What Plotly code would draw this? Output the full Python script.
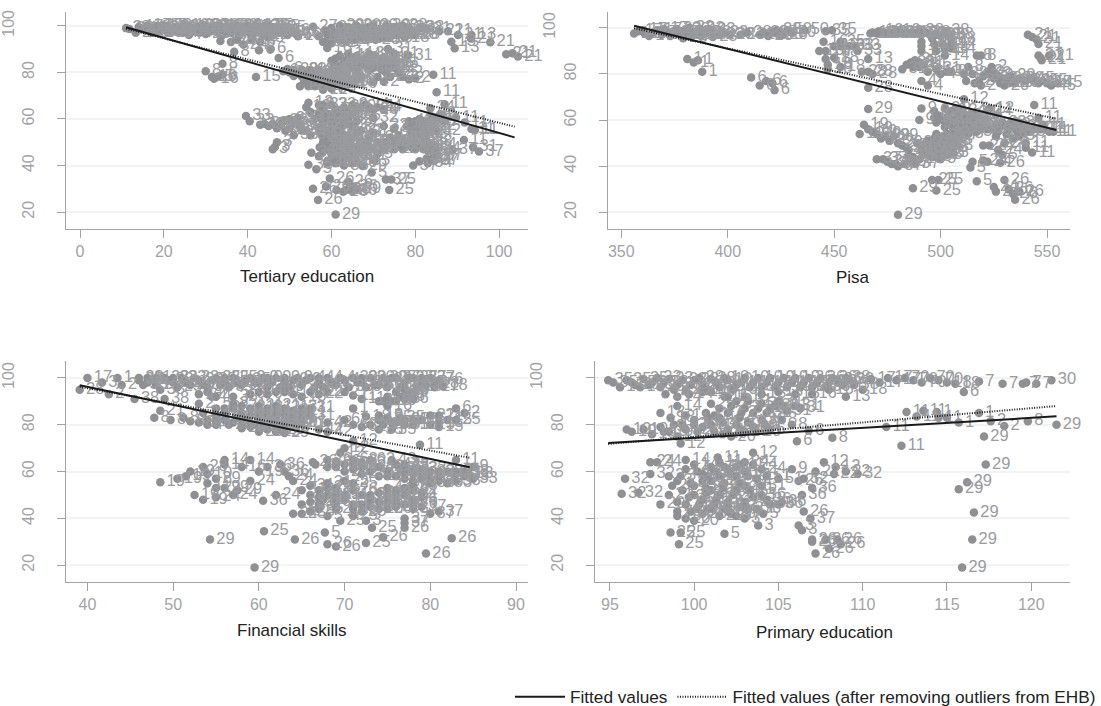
import plotly.graph_objects as go

tertiary_points = [
(11,99,28),(11.8,98.6,28),(13.3,97,28),(14,99.5,17),(15,98.5,19),(16,100,17),(16.5,98,38),(17.5,99,19),(18.5,100,17),(19,97.5,38),(20,99,22),(20.8,100,22),(21.5,98,30),(22.5,99.5,30),(23,97.5,4),(24,99,4),(25,100,10),(25.5,98,34),(26.5,99,34),(27.5,97.5,7),(28,99.5,7),(29,98,23),(29.5,100,23),(30.5,99,27),(31,97.5,27),(32,100,16),(32.5,98.5,16),(33.5,100,15),(34,98,15),(35,99.5,9),(35.5,97.5,9),(36.5,100,20),(37,98.5,20),(38,99.5,36),(38.5,97.5,36),(39.5,99,14),(40,100,14),(41,98,12),(41.5,99.5,12),(42.5,97.5,10),(43,99,10),(44,100,35),(44.5,98,35),(45.5,99,35),(46,97.5,35),(46.5,99.5,35),(47.5,97,35),(49,98,16),(50.5,97.5,16),(51.5,96.5,16),(52,95.5,18),
(17,97,19),(18,98,38),(19.5,100,17),(21,97,30),(22,98.5,22),(24.5,97,4),(26,100,10),(27,98,34),(28.5,97,7),(30,100,23),(31.5,99,27),(33,97,15),(34.5,99,15),(36,97,9),(37.5,100,20),(39,98,36),(40.5,97,14),(42,100,12),(43.5,97,10),(45,100,35),(47,98,35),(48,99,35),(49.5,96,16),
(26,96,7),(30,96.5,23),(34,96,15),(38,96,9),(41,96,20),(44,96,12),(33.5,93.5,7),(36,93,24),(37.5,94,24),(39,92,24),(41,94,24),(43,93,8),(45,95,8),(36.8,88.9,8),(42.7,89.5,6),(45.5,90,6),(47.4,86.2,6),(34,83.7,8),(30,80.5,8),(31.5,78,16),(32,77.3,16),(33,78.2,5),(34,79,5),(42,78,15),
(48.5,80.5,6),(50,80,6),(51,81,20),(52,79.5,20),(53,81,20),(54,80,12),(54,78,12),(55,76,12),(56,80,12),(53.5,76,12),(52.5,74,12),(55,79,18),(57,81,18),(58,78,18),(59,76,18),(60,80,20),(61,77,20),(62,75,20),(63,79,20),(57,75,12),(59,80,30),(64,77,6),(66,77,6),(67,78.5,6),(64.5,76,16),(65,75,16),(56,78,12),(58,74,12),(60,73,30),(61,79,30),(62,81,4),(56,74,12),
(49.5,81.5,6),(51,78.5,20),(53,78,20),(55,81,18),(57,78,18),(58.5,80,30),(60,78,30),(62,78,20),(63,76,20),(59.5,74,12),(61,75,30),(54.5,74,12),(56,76,12),(58,72.5,12),
(60,85,14),(61,86,14),(62,87,14),(63,85,14),(64,88,14),(65,86,14),(66,87,14),(67,85,14),(68,86,14),(69,88,31),(70,87,31),(71,85,31),(72,86,31),(73,83,31),(74,84,31),(72,81,22),(73,80,22),(74,78,22),(75,82,22),(76,80,22),(78.5,77,2),(80,77.5,2),(77,78,2),(72.5,76,2),(71,78,4),(70,76,4),(62,83,4),(64,83,4),(66,84,4),(68,83,4),(70,84,4),(69,81,4),(66,81,4),(73.5,90,31),(78.3,87.3,31),(75,88,31),
(61,83,4),(63,84,4),(65,82,4),(67,83,4),(68,85,14),(71,83,31),(70,82,4),(72,83,31),(74,82,22),(75,85,31),(64,86,14),(60.5,82,4),(73,86,31),(66,85.5,14),
(55.6,99.6,27),(57,95.5,16),(58,93,16),(59,96,16),(60,99,27),(60.5,94,16),(61,97,27),(62,100,20),(63,96,27),(63.5,93,14),(64,99.5,20),(65,97,30),(65.5,94,14),(66,100,30),(67,97,30),(68,95,28),(68.5,99,30),(69.5,97,28),(70,100,30),(71,96,28),(71.5,98,30),(72,95,28),(73,100,30),(74,97,28),(75,99.5,30),(76,96,18),(77,100,38),(78,97,18),(79,98,38),(80,96,18),(81,99,38),(82.7,98.6,21),(85.7,97.7,21),(87.8,97.7,21),(90.2,96,21),(93.4,96,13),(88.6,93.2,13),(89.4,90.4,13),(97.9,92.9,21),(101.7,87.8,21),(103.2,88.2,21),(104.5,86.8,21),(93.3,94.5,21),(59,90.5,16),(60,92.5,31),
(58.5,98,27),(59.5,94,16),(60.5,96,27),(62,94,16),(62.5,97.5,27),(64,95,14),(66.5,94.5,28),(67.5,99,30),(69,95,28),(70.5,94,28),(72.5,98,30),(73.5,95,28),(75,96,18),(76.5,98,38),(77.5,95,18),(78.5,99,38),(79.5,96,18),
(84.3,79,11),(85.1,71.5,11),(87,66.3,11),(83.6,64.6,24),(89.7,60.6,11),(91.8,58.5,11),(93.4,55.7,11),(94.2,55.2,11),(91.6,51,11),(93.8,47.9,31),(95.2,46,37),(88.9,46.7,37),
(39.6,61.3,33),(40.5,59,33),(43,57.5,33),(45,57,33),(47,56,33),(49,55,33),(50,60,33),(52,60.5,33),(51,53,33),(54,55,33),(55,53,33),(47,50,3),(46.5,48,3),(46,47,3),(48,58,33),(51,58,33),(44,58,33),(46,58,33),(48.5,59,33),(50,56,33),(52.5,57,33),(53,55,33),
(54.5,67,12),(54,65,12),(55,63,9),(56,60,9),(57,66,9),(58,64,9),(59,62,32),(60,66,32),(61,64,32),(62,62,32),(63,65,32),(64,63,32),(65,66,9),(66,64,9),(67,65,9),(68,66,24),(69,65,24),(70,64,24),(71,65,24),(72.5,64,9),(70,60.5,32),(58,58,3),(59,55,3),(60,57,3),(61,59,3),(62,56,3),(63,58,3),(64,60,32),(65,57,32),(66,59,32),(67,55,32),(58,52,23),(59,50,23),(60,52,23),(61,54,23),(62,51,23),(63,53,23),(64,50,23),(65,52,23),(66,54,23),(67,50,23),(59,47,23),(60,45,23),(61,48,23),(62,46,23),(63,44,23),(64,47,23),(65,48,23),(66,45,23),(57,44,36),(57.2,47.9,36),(59,41,36),(61,42,36),(63,40,36),(65,41,36),(69,52,19),(70,54,19),(71,50,19),(69,48,19),(72,47,5),(74,52,19),(75,50,28),(76,53,28),(77,51,28),(78,49,28),(79,52,28),(80,50,28),(81,48,28),(82,51,28),(84,49,24),(85,47,24),
(57,62,9),(57.5,60,9),(58,66,32),(59,60,9),(60,62,32),(60.5,60,3),(61,62,32),(62,60,3),(63,62,32),(64,58,3),(65,62,32),(57,56,3),(57.5,54,3),(58,50,23),(59,53,23),(60,49,23),(61,51,23),(62,49,23),(63,48,23),(64,52,23),(65,45,23),(66,48,23),(58,46,23),(60,43,36),(62,43,36),(64,44,36),(66,42,36),(67,46,23),(68,50,19),(68,47,19),(70,47,19),(71,45,5),(73,48,19),(73.5,50,19),(75,47,28),(76,49,28),(77,47,28),(79,48,28),(80,47,28),(82,47,28),(83,50,28),(83,46.5,24),
(78,57,42),(79,55,42),(80,59,42),(81,60,42),(82,57,42),(83,59,42),(84,61,42),(85,60,2),(86,62,2),(83,54,24),(72.5,57,32),(75,56,32),(73,50,19),(78.5,59,42),(80,57,42),(81,55,42),(82,59,42),(84,57,42),(85,55,42),(79,53.5,42),(81,53.5,42),(87,59,2),
(54.5,40.4,35),(56.4,38.4,5),(55.2,45.5,36),(67.4,39.8,29),(70.3,42.2,5),(69.6,37,5),(59,42,29),(61,41,29),(63,43,29),(65,42.5,29),
(79.5,40,37),(81,41.8,34),(82.7,43,34),(84.3,43.6,37),(85.5,44.3,37),(83,41,34),(84.5,42,37),
(55.6,30,26),(58.7,31,26),(56.8,25.2,26),(59.6,34.4,26),(64,33,26),(65.2,31,26),(62.8,28.8,26),(61.2,29.5,26),(66,30,29),(63.5,29.5,26),(65,29,26),(73.8,29.5,25),(73,34,37),(74.3,34,25),(61,19,29),
]

pisa_points = [
(356,97.5,1),(358,98.5,17),(360,99,17),(361,97.5,17),(363,96.5,17),(365,98,17),(367,99,17),(369,97,17),(370,99.5,17),(372,97.5,17),(373,96.5,17),(375,98,23),(376,99.5,23),(378,97,23),(379,95.5,23),(380,99,23),(381,98,23),(382,100,23),(383,96.5,23),(385,98,23),(386,97,23),(387,99.5,23),(388,97,23),(390,98,23),(392,99,23),(393,96,23),(396,97,23),(398,98,23),(401,97,23),(406,97,23),(409,98,28),(415,97,28),(417,98,28),(419,96.5,28),(421,98,28),(423,99,28),(424,97,28),(426,97,28),(428,99,50),(430,98,50),(436,99,50),(446,98.5,35),(449,99,35),(453,94,35),(450,92,16),(445,94,16),(443,90,16),(446,90,16),(453,92,16),(446,86.5,18),(447,82,18),(447,84,18),(453,83,18),(450,87,18),(457,92,33),(461,90,33),(460,92,33),
(466,86.5,13),(463,81,28),(466,81,28),(466,74,28),(468,80,28),
(467,97.5,10),(468,98,10),(470,97.5,10),(471,98.5,10),(473,98,10),(474,97.5,10),(476,98,10),(478,97.5,10),(479,98.5,10),(481,98,10),(482,97.5,10),(484,98,10),(485,97.5,10),(487,98,10),(490,98.5,38),(491,97.5,38),(493,98,38),(495,97,38),(496,95.5,38),(498,97,38),(500,96.5,38),(502,98.5,38),(504,97,38),(505,95,38),(491,94,14),(491,92,14),(491,90,14),(501,93,14),(502,91,14),(505,93,14),(505,91,14),(497,93,14),(498,90,14),(502,88,14),
(541,97,21),(543,96,21),(545,95,21),(546,93,21),(546,88,21),(547,87,21),(547.5,86,21),(551,88,21),
(381,86.5,1),(384,85,1),(386,86,1),(388,81,1),(411,78.5,6),(415,75,6),(418,77,6),(421,76,6),(422,73,6),
(482,82,31),(484,84,31),(486,85,31),(488,86,31),(490,85,31),(492,84,31),(494,81,31),(498,82,31),(503,81,31),(500,80,4),(491,77,4),(494,75,4),(490,83,31),(487,83,31),
(505,81,8),(511,80,8),(513,83,8),(517,88,8),(519,88,8),(515,80,8),(516,76,2),(518,77,2),(519,75,2),(520,79,2),(522,81,2),(523,80,2),(524,83,2),(525,78,2),(526,80,2),(527,79,2),(528,76,2),(529,78,2),(530,75,20),(531,78,20),(532,76,20),(533,79,20),(534,77,20),(535,76,20),(537,78,20),(540,77,20),(542,78,45),(544,77,45),(546,76,45),(548,77,45),(550,76,45),(552,75,45),(555,76,45),(512,77,2),
(511,69,12),(523,65,12),(544,66.5,11),(546,61,11),(548,58,11),(549,56,11),(551,55,11),(553,55,11),(547,56,11),(540,50,11),(540,48,11),(543,46,11),
(466,64.8,29),(464,58,19),(462,54,19),(466,56,19),(468,55,19),(470,54,19),(472,52,19),(474,53,29),(476,51,29),(478,53,29),(480,50,29),(482,49,29),
(491,65,9),(490,60,9),(497,64,9),(497,61,9),(498,59,9),(502,65,9),(505,64,9),(503,61,9),(506,60,9),(508,62,9),(510,64,24),(512,62,24),(515,61,24),(518,60,24),(522,64,24),(502,57,3),(504,58,3),(506,56,3),(508,58,3),(510,56,3),(512,58,3),(514,56,3),(516,59,3),(518,57,3),(520,58,3),(524,56,3),(526,58,3),(528,57,3),(530,58,3),(532,56,3),(534,57,3),(536,55,3),(538,57,3),(540,56,3),(542,55,3),(544,56,3),(526,53,3),(534,52,3),(537,53,3),
(499,62,9),(501,60,9),(504,63,9),(507,65,9),(509,60,24),(511,59,24),(513,60,24),(515,63,24),(517,62,24),(519,56,3),(521,60,3),(522,56,3),(503,54,3),(505,52,3),(507,54,3),(509,53,3),(511,55,3),(513,54,3),(515,57,3),(517,55,3),(527,55,3),(529,59,3),(531,54,3),(533,59,3),(535,58,3),(537,59,3),(539,55,3),(541,57,3),
(489,50,9),(491,47,9),(493,50,9),(495,48,9),(497,52,9),(498,48,9),(499,46,3),(500,50,3),(501,53,3),(502,47,3),(503,51,3),(504,49,3),(505,53,3),(506,48,3),(507,51,3),(508,49,3),(496,44,9),(498,44,3),(500,43,3),(503,45,3),(506,46,3),(485,47,29),(484,48,29),(490,43,29),(492,45,29),
(494,51,9),(496,50,9),(498,54,9),(500,47,3),(502,50,3),(504,46,3),(505,50,3),(494,46,9),(497,46,9),(501,45,3),(499,51,3),
(470,43,37),(473,43,37),(475,42,37),(477,41,37),(479,41,37),(480,40,37),(483,41,37),(485,44,37),(486,42,37),(488,41,37),(487,44,37),
(520,49,24),(523,49,24),(527,47,24),(529,45,5),(530,50,24),(515,42,5),(514,39.5,5),(520,42.5,24),(522,42,24),(528,41.5,26),
(487,30.5,29),(496,34,25),(499,34,25),(498,29.5,25),(517,33.5,5),(530,34,26),(525,31,24),(526,29,24),(532,30,26),(534,28,26),(537,29,26),(535,25.5,26),(480,19,29),
]

financial_points = [
(40,100,17),(41.7,98,3),(43.5,100,1),(39.1,95,28),(42.5,93,2),(44,97,2),(45.5,91,38),(46,99,38),(47,100,1),(48,97,1),(49,100,23),(50,98,23),(51,100,23),(52,97,23),(53,99,23),(54,96,35),(55,100,35),(56,98,35),(57,100,35),(58,97,35),(59,100,9),(60,98,9),(61,96,9),(62,100,9),(63,98,9),(64,99,9),(65,97,9),(66,100,4),(67,98,4),(68,100,4),(69,97,4),(70,99,4),(71,100,30),(72,98,30),(73,100,30),(74,97,30),(75,99,30),(76,100,27),(77,98,27),(78,100,27),(79,98,27),(80,100,27),(80.5,96,27),(81,99,76),(46.5,97,38),(47.5,99,1),(48.5,95,38),(50.5,96,23),(52.5,100,23),(54.5,99,35),(56.5,96,35),(58.5,99,35),(60.5,100,9),(62.5,96,9),(64.5,100,9),(66.5,96,4),(68.5,98,4),(70.5,96,30),(72.5,96,30),(74.5,100,30),(76.5,96,27),(78.5,96,27),
(46,100,38),(47,98,1),(48,100,1),(49.5,99,23),(50,100,23),(51.5,98,23),(53.5,97,23),(55.5,97,35),(56,100,35),(57.5,98,35),(59.5,98,9),(61,100,9),(61.5,98,9),(63,100,9),(63.5,96,9),(65.5,99,9),(67,100,4),(67.5,96,4),(69.5,100,4),(71.5,98,30),(72,100,30),(73.5,97,30),(75,96,30),(75.5,100,27),(77,96,27),(77.5,100,27),(79,100,27),(79.5,97,27),
(53,93,4),(54.5,92,4),(57,92,35),(59,93,9),(61,93,9),(63,94,4),(65,92,13),(67,93,22),(68,94,27),(71,92.5,11),(72,91,11),(54,94,4),(55,92,4),(60,94,9),(62,94,4),(64,93,13),(66,94,22),(70,94,27),
(49,91,38),(48.5,86,21),(47.8,83,8),(49.7,82,8),(51.2,83,8),(52,81.5,8),(53,81,8),(54,82,8),(55,80,4),(56,82,20),(57,81,20),(58,80,20),(59,79,20),(60,81,20),(61,78,20),(62,80,20),(63,79,20),(64,81,20),(65,83,1),
(55,82,4),(56.5,80,20),(57.5,83,20),(58.5,82,20),(59.5,80,20),(60.5,79,20),(61.5,82,20),(62.5,78,20),(63.5,82,20),(64.5,80,20),(60,77,29),(62,77,29),(63,76.5,29),(58,78.5,20),(54,80,4),
(53,89,2),(55,87,2),(56,85,2),(57,87,2),(58,85,2),(59,87,21),(60,85,21),(61,87,21),(62,85,21),(63,84,21),(64,86,21),(65,85,21),(66,87,31),(66,84,31),(58,83,21),(60,83,21),(62,83,21),(55,84,2),(53.5,85,2),
(57,89,2),(58,88,21),(59,84,21),(60,88,21),(61,85,21),(62,88,21),(63,87,21),(64,84,21),(65,87,31),(56,87,2),(61,84,21),(63,82,21),(65,81,21),
(71,87,1),(72.5,83.5,18),(74,90,1),(75,92,16),(76,94,16),(77,95,16),(78,94,6),(77,91,6),(76,90,6),(75,88,16),(81.5,96.5,18),(80.5,97.5,18),(78.5,96,18),
(75.5,90,16),(76.5,92,16),(77.5,93,6),(78,91,6),(74.5,90,1),
(83,87,6),(84,85,2),(67,78,42),(68,81,42),(68,77,42),(70,82,62),(71,80,62),(72,79,62),(73,80,19),(74,82,19),(74.5,80,19),(75,83,35),(76,81,35),(77,80,35),(78,80,16),(79,82,16),(80,84,21),(81,84,21),(82,82,15),(80,80,15),(81,81,15),(83,82,25),(75.5,78,35),
(74,84,19),(75.5,81,35),(76.5,83,35),(77,82,35),(78,82,16),(74,78,35),(81,79,15),
(78.8,71.5,11),(83,65,11),(85,62,9),(70,70,12),(71,73,12),(69.5,68,12),
(56,65,14),(56,63,14),(59,65,14),(53.5,62,28),(61,62,36),(58,62,16),(60,60,19),(62.5,63,36),(63,60,36),(63.5,58,24),(64,56,24),(59,56,24),(52,60,19),(51.5,58,19),(48.5,55.5,19),(54,55,19),(55,57,29),(52.5,50,19),(53.5,48,19),(55,49,24),(57,50,24),(56,53,29),(57.5,52,29),(60.5,47.5,36),(62,50,24),(65,46,24),(64,42,24),(50.5,57,19),(55,53,19),(54,59,10),
(66.3,64,26),(66.6,63,26),(68,65,26),(69,64,26),(70,63,26),(71,65,62),(72,64,62),(73,65,62),(75.5,65,43),(76,63,43),(77,62,43),(70,60,23),(71,61,23),(72,59,23),(73,60,23),(74,58,23),(75,58,23),(77,60,33),(78,61,33),(79,59,33),(80,60,33),(81,58,33),(82,60,33),(83,59,33),(84,58,33),(85,57,33),(78,56,33),(79,57,33),(80,55,33),(81,56,33),(83,56,33),(82,55,33),
(68,62,26),(69,62,26),(71,63,62),(72,62,62),(74,62,43),(77,63,43),(78,59,33),(75,60,23),(76,58,23),(76.5,61,33),(79,61,33),(81,60,33),(83,60,33),(84,60,33),(84.5,59,33),(77,57,33),(78,54,33),(80,57,33),
(66,54,31),(67,52,31),(68,55,31),(69,53,25),(70,56,25),(71,55,25),(65,52,31),(66,50,31),(67.5,48,31),(68,50,31),(69,47,31),(70,50,31),(71,46,31),(72,50,26),(73,48,26),(74,51,26),(75,47,26),(76,50,26),(77,53,26),(78,48,26),(79,51,4),(78,52,4),(74,44,26),(72,43,26),(76,45,26),(71,41,25),(65,42,25),(66,43,25),(67,44,25),(68,41,5),(69.5,39,25),(77,40,37),(79,45,37),(80,42,37),(81,43,37),(76,46,37),
(67,49,31),(68,53,25),(69,50,31),(70,48,31),(71,52,26),(72,46,26),(73,50,26),(74,47,26),(75,50,26),(76,48,26),(77,50,26),(78,46,26),(75,44,26),(73,45,26),(71,44,26),(69,44,25),(66,47,31),(67,46,31),(79,49,4),(76,52,4),(75,53,4),(77,46,37),(78,44,37),
(72.5,39,3),(73.2,36,25),(77,36,26),(77,38,37),(60.6,34.5,25),(54.3,31,29),(64.2,31,26),(67.7,34,5),(68,29,26),(69,28,26),(72.5,29.5,25),(74.5,32,26),(82.5,31.5,26),(79.5,25,26),(59.5,19,29),
]

primary_points = [
(94.9,99,35),(95.2,98,35),(95.6,96,15),(96,99,35),(96.5,97,15),(97,99.5,35),(97.5,98,23),(98,96,23),(98.5,99.5,23),(99,97,23),(99.5,95,23),(100,99,28),(100.5,97,28),(101,99.5,28),(101.5,96,28),(102,99,10),(102.5,97,10),(103,100,10),(103.5,98,10),(104,96,10),(104.5,100,19),(105,98,19),(105.5,96,19),(106,100,19),(106.5,98,19),(107,96,36),(107.5,100,36),(108,98,36),(108.5,99,36),(109,100,38),(109.5,97,38),(110,95,18),(110.5,99.5,17),(111,98,17),(111.5,100,17),(112,99,17),(112.5,100,70),(113,99,70),(113.5,98,70),(114,100,70),(114.5,99,70),(115,98,18),(115.5,97.5,18),(99,92,14),(99.7,93,14),(101,94,10),(102,92,15),(103,92,15),(104,93,13),(105,94,13),(106,93,13),(107,93,16),(108,95,16),(109,92,13),(100.5,94,14),(98.3,93,14),(116,94,6),(116.9,98.5,7),(118.3,97.5,7),(119.5,97.5,7),(119.7,98,7),(120.3,97.5,7),(121.2,99,30),
(96.3,98,35),(96.8,96,15),(97.3,97,23),(97.8,100,23),(98.2,98,23),(98.8,95,23),(99.3,99,23),(99.8,97,28),(100.3,100,28),(100.8,95,28),(101.3,98,28),(101.8,100,10),(102.3,95,10),(102.8,98,10),(103.3,96,10),(103.8,100,10),(104.3,98,19),(104.8,96,19),(105.3,100,19),(105.8,98,19),(106.3,96,19),(106.8,100,36),(107.3,98,36),(107.8,96,36),(108.2,100,36),(108.8,97,38),(109.2,99,38),
(112.6,85.5,11),(113.2,83.5,11),(113.6,86,11),(114.4,85.5,1),(114.5,83,1),(115,83,1),(115.7,81,1),(116.9,85,1),(117.6,81.5,2),(118.4,79.5,2),(119.8,81.5,8),(121.5,80,29),(111.4,79,11),(112.3,71,11),(117.2,75,29),(117.3,63,29),(116.2,55.5,29),(115.7,52.5,29),(116.6,42.5,29),(116.5,31,29),(115.9,19,29),
(106.1,73,6),(106.8,77.5,6),(108.2,74.5,8),(103.5,68,12),(96,78,19),(96.3,77,19),(97,78,19),(97.5,76,19),(98,79,19),(98.5,77,19),(99,75,12),(99.2,72,12),(99.5,78,12),(100,80,20),(98,85,18),(98.6,83,18),(99,88,14),(99.5,84,1),(100,82,1),(100.5,79,20),(101,80,20),(101.5,83,4),(102,78,20),(102.5,80,20),(103,77,20),(103.5,79,30),(104,82,30),(104.5,78,6),(105.2,82,8),(105.8,80,8),(101,89,2),(101.5,87,2),(102,85,2),(102.5,90,2),(103,87,2),(103.5,85,31),(104,89,31),(104.5,87,31),(105,90,31),(105.5,86,31),(106,88,31),(106.3,87,31),(101.8,92,15),(100.7,85,1),
(98.2,77,19),(98.8,80,19),(99.3,80,12),(100.2,77,20),(100.8,83,1),(101.2,77,20),(101.7,81,4),(102.2,75,20),(102.7,83,4),(103.2,81,30),(103.7,77,20),(104.2,80,6),(102.2,88,2),(102.8,85,2),(103.2,90,31),(103.8,87,31),(104.3,85,31),(104.8,88,31),(105.3,88,31),(101.2,84,2),(101.7,76,20),(102.8,78,20),
(97.4,64,24),(97.8,64,24),(99.5,65,14),(101.4,66,11),(103,64,24),(95.9,57,32),(95.7,50.5,32),(96.7,51,32),(98,46,20),(97.4,59,32),(98.5,58,3),(99,56,3),(99.5,61,14),(100,63,14),(100.5,59,14),(101,62,14),(101.5,64,11),(102,61,11),(102.5,62,11),(103,60,11),(103.5,63,24),(104,61,24),(104.3,58,51),(105,57,51),(98.5,50,21),(98.7,54,21),(99,47,21),(99.3,52,21),(99.7,49,21),(100,54,21),(100.3,46,21),(100.7,51,21),(101,56,21),(101.3,48,21),(101.7,53,21),(102,45,21),(102.3,50,21),(102.7,55,21),(103,47,21),(103.3,52,21),(103.7,57,21),(104,50,36),(104.3,48,36),(104.5,46,36),(105,46,36),(105.2,47,36),(100.5,42,20),(101,44,20),(101.5,41,20),(102,43,20),(102.5,41,37),(103,40,3),(99,43,20),(99,41,20),(99.5,40,20),(100,39,20),(100.5,56,21),(101.5,58,21),(102.5,58,21),
(99.2,58,3),(99.8,55,3),(100.2,60,14),(100.8,58,14),(101.2,60,14),(101.8,62,11),(102.2,59,11),(102.8,63,11),(103.2,58,21),(99.5,46,21),(100,50,21),(100.5,48,21),(101,52,21),(101.5,50,21),(102,47,21),(102.5,52,21),(103,54,21),(103.5,49,21),(104,54,51),(100.8,44,20),(101.2,46,20),(101.8,44,20),(102.2,42,20),(102.8,45,37),(103.2,44,37),(99.8,43,20),(100.2,44,20),(100.7,53,21),(101.8,55,21),(103.7,44,36),
(105.8,61,9),(106.5,57,32),(107.7,64,12),(108.4,62,12),(109,60,22),(109.7,59,32),(106.4,50,36),(107,53,36),(107.2,60,22),(108.3,59,22),(106.2,56,26),
(106.5,43,26),(106.9,40,37),(106.2,37,3),(106.4,35,3),(107,30,26),(107,31,26),(107.2,25,26),(108,27,26),(108.5,31,26),(108.7,29,26),(107.8,31,26),(98.6,34,25),(99.2,34,25),(99.1,29,25),(101.8,33.5,5),(103.8,37,3),(104.1,42,5),
]

fit_tertiary_x = [11, 103.7]
fit_tertiary_y = [99.4, 52.1]
fit_tertiary_outlier_y = [98.7, 56.7]
fit_pisa_x = [356, 554.4]
fit_pisa_y = [100.9, 55.7]
fit_pisa_outlier_y = [99.8, 60.6]
fit_financial_x = [39.1, 84.6]
fit_financial_y = [96.9, 61.9]
fit_financial_outlier_y = [96.2, 65.9]
fit_primary_x = [94.9, 121.5]
fit_primary_y = [72.2, 83.6]
fit_primary_outlier_y = [71.8, 88.0]

y_ticks = [20, 40, 60, 80, 100]
y_tick_text = ["20", "40", "60", "80", "100<br>&nbsp;"]

GREY = "#8f9093"
LABEL = "#9a9b9e"
TICK = "#a2a3a5"
FONT = "Liberation Sans, Arial, sans-serif"

panels = [
    ("x", "y", tertiary_points, fit_tertiary_x, fit_tertiary_y, fit_tertiary_outlier_y, "Tertiary education",
     [0, 20, 40, 60, 80, 100], [-3.34, 106.9], [66, 528], [10, 229], [12.77, 105.96], 307, 277),
    ("x2", "y2", pisa_points, fit_pisa_x, fit_pisa_y, fit_pisa_outlier_y, "Pisa",
     [350, 400, 450, 500, 550], [343.6, 560.8], [607.7, 1070], [10, 229], [12.8, 106.9], 853, 278),
    ("x3", "y3", financial_points, fit_financial_x, fit_financial_y, fit_financial_outlier_y, "Financial skills",
     [40, 50, 60, 70, 80, 90], [37.5, 91.4], [66, 528], [362, 585], [12.9, 107.3], 291.5, 634),
    ("x4", "y4", primary_points, fit_primary_x, fit_primary_y, fit_primary_outlier_y, "Primary education",
     [95, 100, 105, 110, 115, 120], [94.1, 122.3], [594.7, 1070], [362, 585], [12.9, 107.3], 824, 636),
]

W, H = 1101, 706
AREA = 683  # plot area height: the legend keeps the remaining strip under it
fig = go.Figure()
layout = {}
annotations = []
for i, (xa, ya, pts, fx, fy, foy, title, xt, xr, dx, dy, yr, tx, ty) in enumerate(panels):
    fig.add_trace(go.Scatter(
        x=[p[0] for p in pts], y=[p[1] for p in pts], text=[str(p[2]) for p in pts],
        mode="markers+text", textposition="middle right", cliponaxis=False,
        marker=dict(color=GREY, size=8.5, line=dict(width=0)),
        textfont=dict(family=FONT, size=16.5, color=LABEL),
        showlegend=False, xaxis=xa, yaxis=ya, hoverinfo="skip"))
    fig.add_trace(go.Scatter(
        x=fx, y=fy, mode="lines", line=dict(color="#1a1a1a", width=2),
        name="Fitted values", showlegend=i == 0, xaxis=xa, yaxis=ya, hoverinfo="skip"))
    fig.add_trace(go.Scatter(
        x=fx, y=foy, mode="lines", line=dict(color="#1a1a1a", width=2, dash="1px 1.5px"),
        name="Fitted values (after removing outliers from EHB)", showlegend=i == 0, xaxis=xa, yaxis=ya, hoverinfo="skip"))
    xn = "xaxis" + xa[1:]
    yn = "yaxis" + ya[1:]
    layout[xn] = dict(domain=[dx[0] / W, dx[1] / W], range=xr, tickvals=xt, anchor=ya,
                      showgrid=False, zeroline=False, showline=True, linecolor=TICK, linewidth=1.3,
                      ticks="outside", ticklen=8, tickcolor=TICK, tickwidth=1.2,
                      tickfont=dict(family=FONT, size=16, color=TICK))
    layout[yn] = dict(domain=[1 - dy[1] / AREA, 1 - dy[0] / AREA], range=yr, tickvals=y_ticks, ticktext=y_tick_text, anchor=xa,
                      showgrid=True, gridcolor="#f3f3f3", gridwidth=1.5, zeroline=False,
                      showline=True, linecolor=TICK, linewidth=1.3,
                      ticks="outside", ticklen=8, tickcolor=TICK, tickwidth=1.2, tickangle=-90,
                      ticklabelstandoff=16,
                      tickfont=dict(family=FONT, size=16, color=TICK))
    annotations.append(dict(text=title, xref="paper", yref="paper", x=tx / W, y=1 - ty / AREA,
                            xanchor="center", yanchor="middle", showarrow=False,
                            font=dict(family=FONT, size=17, color="#222222")))

fig.update_layout(
    width=W, height=H, margin=dict(l=0, r=0, t=0, b=0),
    paper_bgcolor="white", plot_bgcolor="white", annotations=annotations,
    legend=dict(orientation="h", xref="container", yref="container", x=1, xanchor="right", y=0.0127, yanchor="middle",
                itemwidth=50, font=dict(family=FONT, size=17.2, color="#222222"),
                bgcolor="rgba(0,0,0,0)", traceorder="normal"),
    **layout)
fig.write_html("out.html", config={"displayModeBar": False}, post_script="document.body.style.margin='0';")
